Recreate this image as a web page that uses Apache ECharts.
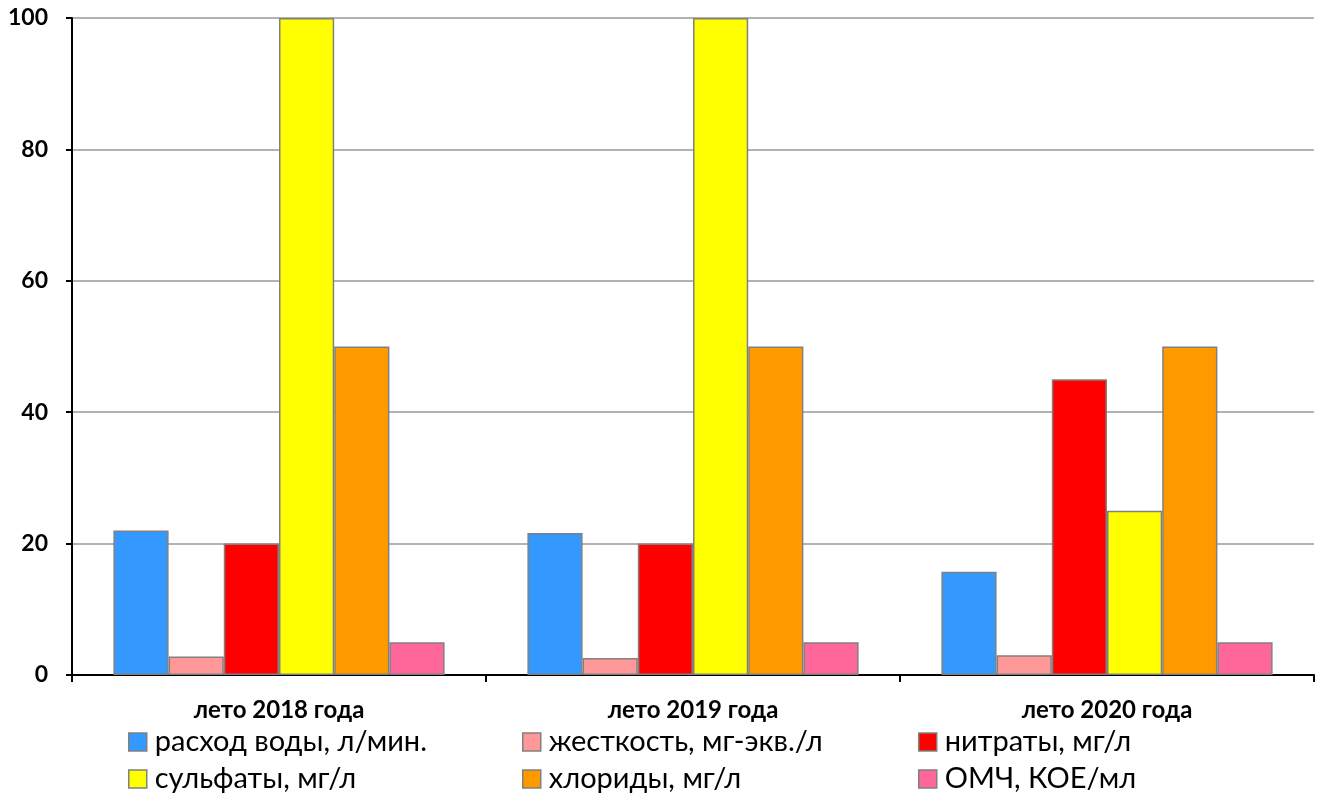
<!DOCTYPE html>
<html>
<head>
<meta charset="utf-8">
<script src="https://cdn.jsdelivr.net/npm/echarts@6/dist/echarts.min.js"></script>
<style>
  html, body { margin: 0; padding: 0; background: #fff; }
  #chart { width: 1322px; height: 795px; }
</style>
</head>
<body>
<div id="chart"></div>
<script>
// Periods along the x axis
const categories = ['лето 2018 года', 'лето 2019 года', 'лето 2020 года'];

// Measured indicators per period
const flowRate  = [22, 21.6, 15.7];   // расход воды, л/мин.
const hardness  = [2.8, 2.6, 3.0];    // жесткость, мг-экв./л
const nitrates  = [20, 20, 45];       // нитраты, мг/л
const sulfates  = [100, 100, 25];     // сульфаты, мг/л
const chlorides = [50, 50, 50];       // хлориды, мг/л
const omch      = [5, 5, 5];          // ОМЧ, КОЕ/мл

const yTicks = [0, 20, 40, 60, 80, 100];

const seriesDefs = [
  { name: 'расход воды, л/мин.', data: flowRate,  color: '#3399FF' },
  { name: 'жесткость, мг-экв./л', data: hardness,  color: '#FF9999' },
  { name: 'нитраты, мг/л',        data: nitrates,  color: '#FF0000' },
  { name: 'сульфаты, мг/л',       data: sulfates,  color: '#FFFF00' },
  { name: 'хлориды, мг/л',        data: chlorides, color: '#FF9900' },
  { name: 'ОМЧ, КОЕ/мл',          data: omch,      color: '#FF6699' }
];

const FONT = 'Lato, "Open Sans", "DejaVu Sans", sans-serif';

// Legend is laid out as three columns of two entries each
const legendBase = {
  orient: 'vertical',
  top: 727,
  padding: 0,
  itemWidth: 18,
  itemHeight: 18,
  itemGap: 7,
  icon: 'rect',
  itemStyle: { borderColor: '#808080', borderWidth: 1.5 },
  textStyle: { fontFamily: FONT, fontSize: 29, lineHeight: 30, color: '#000', padding: [0, 0, 0, 3] },
  selectedMode: false
};

const chart = echarts.init(document.getElementById('chart'), null, { renderer: 'canvas' });

chart.setOption({
  animation: false,
  backgroundColor: '#fff',
  grid: { left: 72, right: 8, top: 18, bottom: 120, containLabel: false },
  legend: [
    Object.assign({}, legendBase, { left: 128, data: [seriesDefs[0].name, seriesDefs[3].name] }),
    Object.assign({}, legendBase, { left: 522, data: [seriesDefs[1].name, seriesDefs[4].name] }),
    Object.assign({}, legendBase, { left: 918, data: [seriesDefs[2].name, seriesDefs[5].name] })
  ],
  xAxis: {
    type: 'category',
    data: categories,
    axisLine: { lineStyle: { color: '#000', width: 2 } },
    axisTick: { show: true, length: 7, lineStyle: { color: '#000', width: 2 }, alignWithLabel: false },
    axisLabel: {
      fontFamily: FONT, fontWeight: 'bold', fontSize: 24, color: '#000', margin: 23
    },
    splitLine: { show: false }
  },
  yAxis: {
    type: 'value',
    min: yTicks[0],
    max: yTicks[yTicks.length - 1],
    interval: 20,
    axisLine: { show: true, lineStyle: { color: '#000', width: 2 } },
    axisTick: { show: true, length: 6, lineStyle: { color: '#000', width: 2 } },
    axisLabel: {
      fontFamily: FONT, fontWeight: 'bold', fontSize: 23, color: '#000', margin: 24
    },
    splitLine: { show: true, lineStyle: { color: '#999', width: 1.5 } }
  },
  series: seriesDefs.map(s => ({
    name: s.name,
    type: 'bar',
    data: s.data,
    barGap: '0%',
    barCategoryGap: '20%',
    itemStyle: { color: s.color, borderColor: '#808080', borderWidth: 1.5 }
  }))
});
</script>
</body>
</html>
